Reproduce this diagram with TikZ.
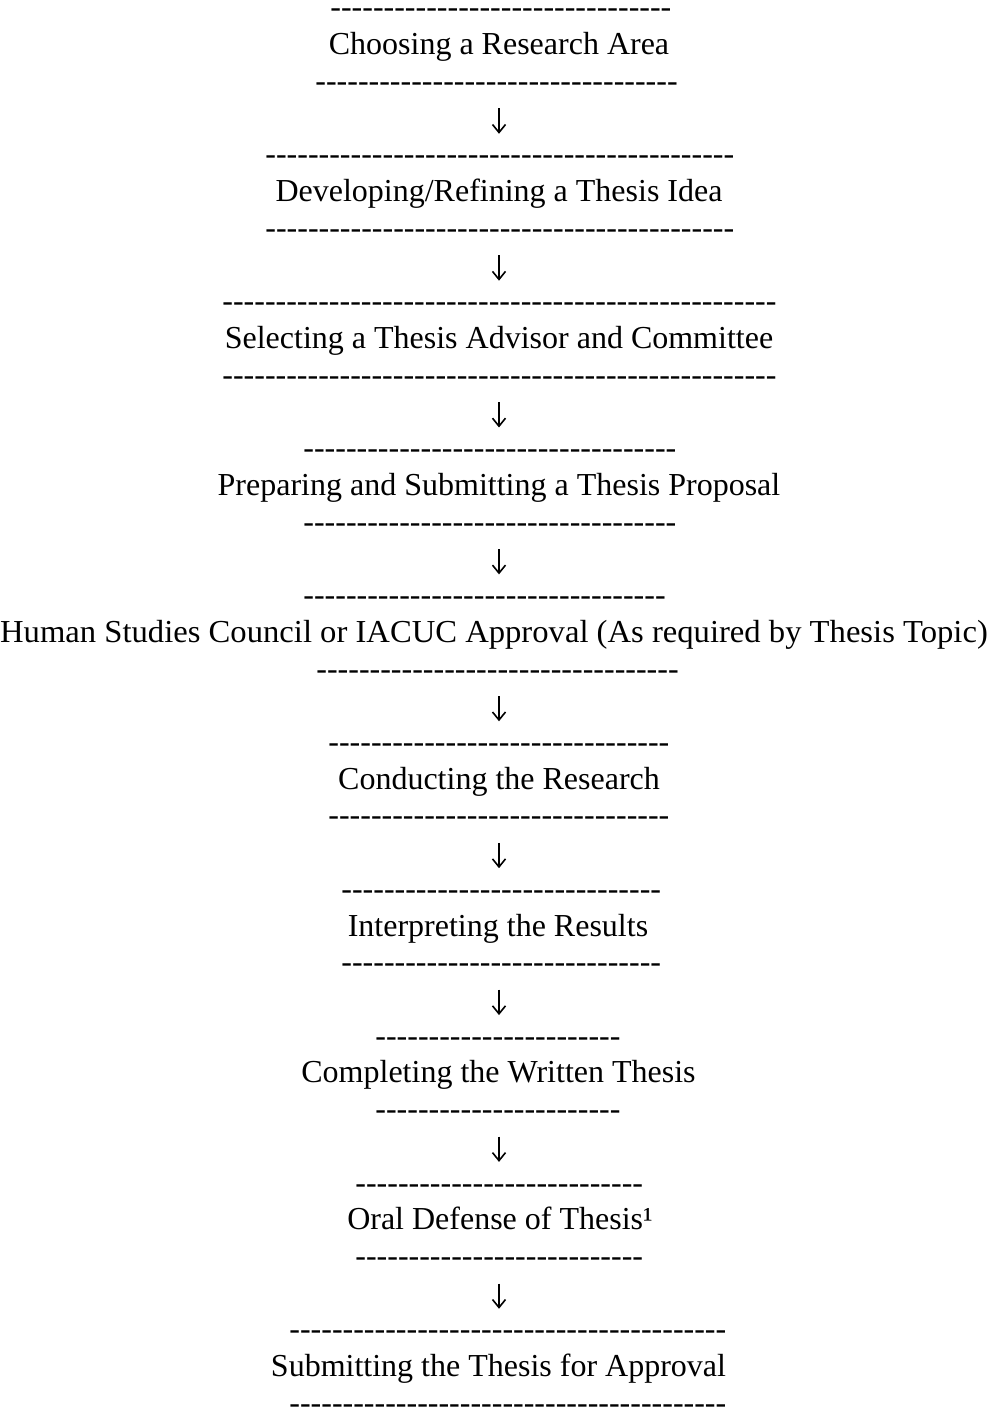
\documentclass[tikz,border=0pt]{standalone}
\usepackage{fontspec}
\setmainfont{Liberation Serif}
\usetikzlibrary{arrows.meta}

\newcommand{\dashrow}[1]{\foreach \k in {1,...,#1}{-\kern0pt}}

\tikzset{
  steptext/.style={anchor=base, inner sep=0pt, font=\fontsize{16}{19}\selectfont},
  rule/.style={anchor=base west, inner sep=0pt, font=\fontsize{16}{19}\selectfont},
  flow/.style={line width=0.8pt, shorten <=8.3pt, shorten >=11pt,
    -{Straight Barb[length=4pt, width=6.5pt, line width=0.8pt]}},
}

\begin{document}
\begin{tikzpicture}[x=0.5pt, y=-0.5pt]
  \useasboundingbox (0,-3) rectangle (989,1405);
  \coordinate (axis) at (499,0);

  % steps
  \node[rule] (t1) at (330,15) {\dashrow{32}};
  \node[steptext] (s1) at (499,51.7) {Choosing a Research Area};
  \node[rule] (b1) at (315,88.4) {\dashrow{34}};

  \node[rule] (t2) at (265,161.9) {\dashrow{44}};
  \node[steptext] (s2) at (499,198.6) {Developing/Refining a Thesis Idea};
  \node[rule] (b2) at (265,235.3) {\dashrow{44}};

  \node[rule] (t3) at (222,308.8) {\dashrow{52}};
  \node[steptext] (s3) at (499,345.5) {Selecting a Thesis Advisor and Committee};
  \node[rule] (b3) at (222,382.2) {\dashrow{52}};

  \node[rule] (t4) at (303,455.6) {\dashrow{35}};
  \node[steptext] (s4) at (499,492.4) {Preparing and Submitting a Thesis Proposal};
  \node[rule] (b4) at (303,529.1) {\dashrow{35}};

  \node[rule] (t5) at (303,602.5) {\dashrow{34}};
  \node[steptext] (s5) at (494,639.2) {\scalebox{1.02}[1]{Human Studies Council or IACUC Approval (As required by Thesis Topic)}};
  \node[rule] (b5) at (316,676.0) {\dashrow{34}};

  \node[rule] (t6) at (328,749.4) {\dashrow{32}};
  \node[steptext] (s6) at (499,786.1) {Conducting the Research};
  \node[rule] (b6) at (328,822.8) {\dashrow{32}};

  \node[rule] (t7) at (341,896.3) {\dashrow{30}};
  \node[steptext] (s7) at (498,933.0) {Interpreting the Results};
  \node[rule] (b7) at (341,969.7) {\dashrow{30}};

  \node[rule] (t8) at (375,1043.2) {\dashrow{23}};
  \node[steptext] (s8) at (498.5,1079.9) {Completing the Written Thesis};
  \node[rule] (b8) at (375,1116.6) {\dashrow{23}};

  \node[rule] (t9) at (355,1190.0) {\dashrow{27}};
  \node[steptext] (s9) at (500,1226.8) {Oral Defense of Thesis¹};
  \node[rule] (b9) at (355,1263.5) {\dashrow{27}};

  \node[rule] (t10) at (289,1336.9) {\dashrow{41}};
  \node[steptext] (s10) at (498.5,1373.6) {Submitting the Thesis for Approval};
  \node[rule] (b10) at (289,1410.4) {\dashrow{41}};

  % arrows
  \draw[flow] (b1.south -| axis) -- (t2.north -| axis);
  \draw[flow] (b2.south -| axis) -- (t3.north -| axis);
  \draw[flow] (b3.south -| axis) -- (t4.north -| axis);
  \draw[flow] (b4.south -| axis) -- (t5.north -| axis);
  \draw[flow] (b5.south -| axis) -- (t6.north -| axis);
  \draw[flow] (b6.south -| axis) -- (t7.north -| axis);
  \draw[flow] (b7.south -| axis) -- (t8.north -| axis);
  \draw[flow] (b8.south -| axis) -- (t9.north -| axis);
  \draw[flow] (b9.south -| axis) -- (t10.north -| axis);
\end{tikzpicture}
\end{document}
